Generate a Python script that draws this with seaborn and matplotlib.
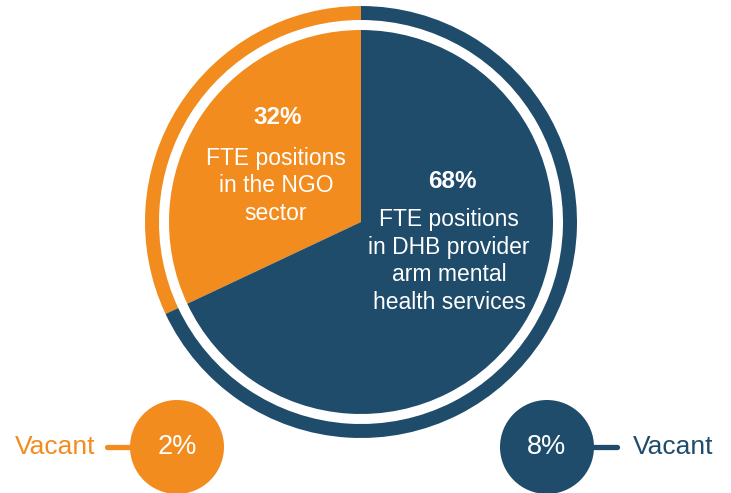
import matplotlib
matplotlib.use("Agg")
import matplotlib.pyplot as plt
import seaborn as sns
from matplotlib.patches import Circle

# data
sectors = ["NGO sector", "DHB provider arm mental health services"]
shares = [32, 68]
share_labels = ["32%", "68%"]
sector_texts = ["FTE positions\nin the NGO\nsector",
                "FTE positions\nin DHB provider\narm mental\nhealth services"]
vacant_labels = ["2%", "8%"]
vacant_text = "Vacant"

sns.set_theme(style="white")
plt.rcParams['font.family'] = ['Liberation Sans', 'DejaVu Sans']
colors = sns.color_palette(["#F28C1E", "#1F4C6B"])

W, H = 731, 493
fig = plt.figure(figsize=(W / 100, H / 100), dpi=100)
ax = fig.add_axes([0, 0, 1, 1])

cx, cy = 361, H - 222

# outer thin ring
ax.pie(shares, colors=colors, startangle=90, counterclock=True,
       radius=216, center=(cx, cy), wedgeprops=dict(width=14, linewidth=0))
# inner pie
ax.pie(shares, colors=colors, startangle=90, counterclock=True,
       radius=192, center=(cx, cy), wedgeprops=dict(linewidth=0))

# labels inside slices
ax.text(278, H - 117, share_labels[0], color="white", fontsize=17.5,
        fontweight="bold", ha="center", va="center")
ax.text(276, H - 186, sector_texts[0], color="white", fontsize=16.5,
        ha="center", va="center", linespacing=1.25)
ax.text(452, H - 181, share_labels[1], color="white", fontsize=17.5,
        fontweight="bold", ha="center", va="center")
ax.text(449, H - 261, sector_texts[1], color="white", fontsize=16.5,
        ha="center", va="center", linespacing=1.25)

# vacant bubbles
bubbles = [(177, colors[0], vacant_labels[0], -1, 82), (547, colors[1], vacant_labels[1], 1, 86)]
by = H - 447
for bx, col, lab, side, toff in bubbles:
    r = 47
    ax.plot([bx + side * r, bx + side * (r + 23)], [by, by], color=col,
            lw=3.8, solid_capstyle="round", zorder=1)
    ax.add_patch(Circle((bx, by), r, color=col, lw=0, zorder=2))
    ax.text(bx, by, lab, color="white", fontsize=19.5, ha="center",
            va="center", zorder=3)
    tx = bx + side * toff
    ax.text(tx, by, vacant_text, color=col, fontsize=19,
            ha="left" if side > 0 else "right", va="center")

ax.set_xlim(0, W)
ax.set_ylim(0, H)
ax.set_aspect("equal")
ax.axis("off")
fig.savefig("out.png", dpi=100)
